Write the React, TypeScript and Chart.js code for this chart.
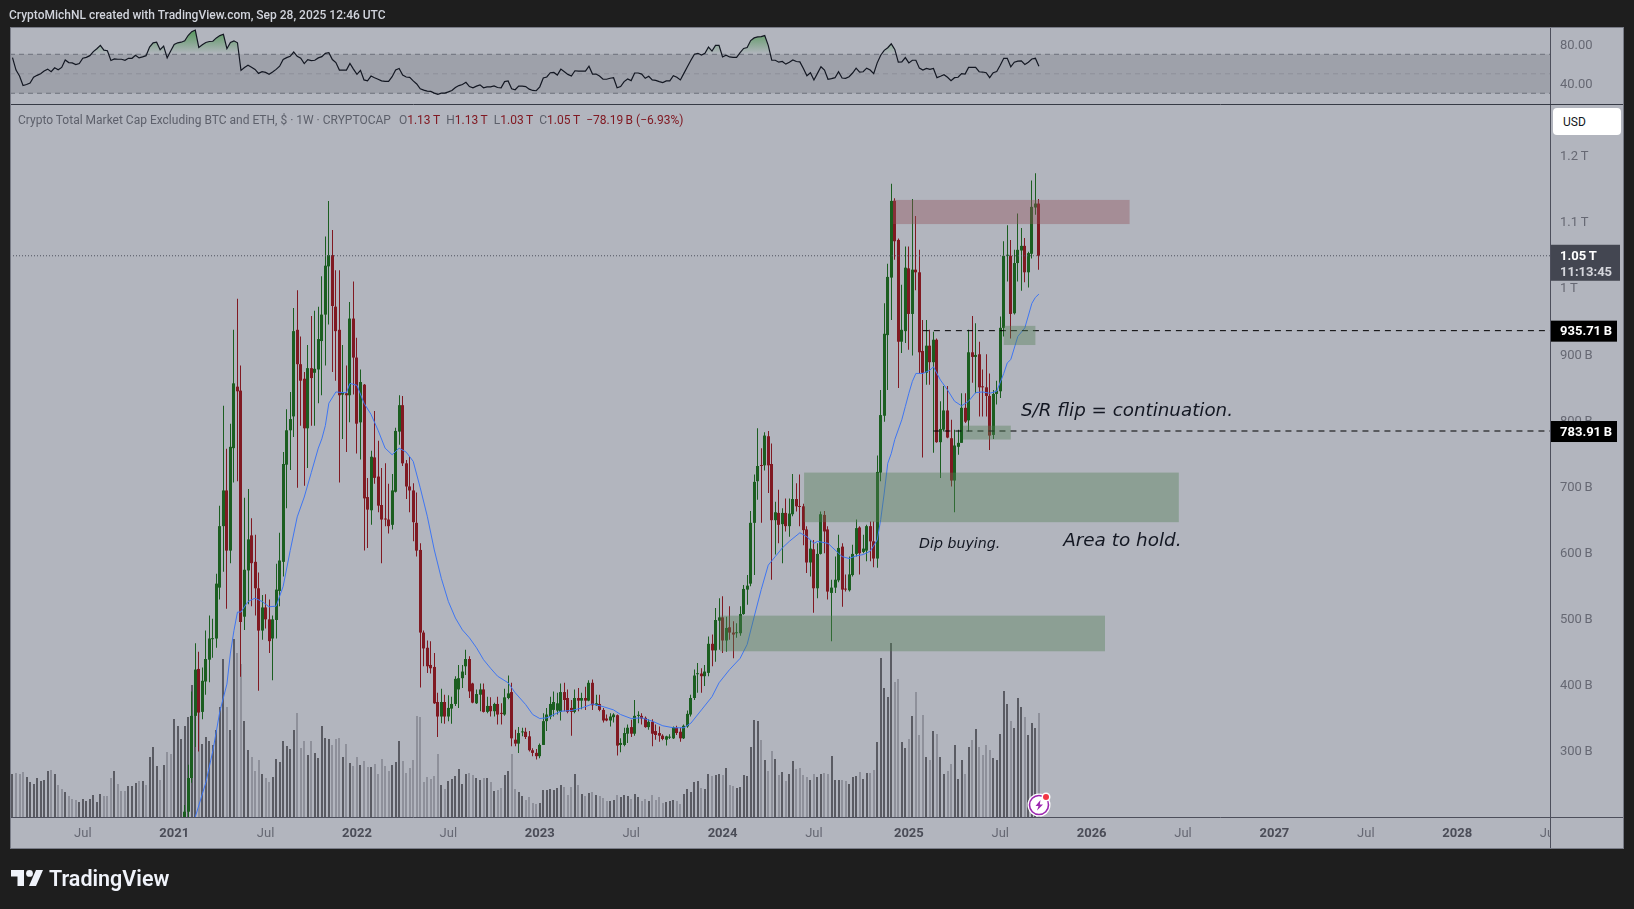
import { useEffect, useRef } from 'react';
import { Chart, registerables } from 'chart.js';

Chart.register(...registerables);

// 293 weekly bars; the first 49 (2020) sit below the price axis, only their volume shows.
const FIRST_CANDLE_WEEK = 49;
const LAST_CANDLE_MONDAY = Date.UTC(2025, 8, 22);
const LAST_WEEK = 292;

const opens = [
  200,208,259,353,424,359,405,438,469,470,547,640,694,603,758,851,845,503,573,626,
  586,546,482,517,499,470,498,542,586,733,785,806,937,885,863,788,879,872,877,920,
  960,1033,1050,972,937,839,841,838,954,895,797,854,684,664,744,715,672,651,650,642,
  692,783,823,735,700,694,645,604,479,456,430,427,374,352,374,352,364,371,393,410,
  428,439,402,372,385,393,359,368,360,371,357,355,380,389,317,311,328,329,322,301,
  297,292,309,345,352,362,361,359,389,380,365,359,380,376,380,376,403,369,371,362,
  349,346,351,354,309,309,326,336,326,353,353,350,336,344,330,327,323,317,320,319,
  335,329,319,337,355,380,416,417,413,418,462,452,497,502,467,487,479,478,478,507,
  544,553,645,708,732,732,776,734,649,660,643,660,640,658,681,670,670,635,585,605,
  546,598,657,635,539,547,558,609,545,543,566,598,638,601,603,640,617,591,721,807,
  929,1016,1132,1073,919,935,1030,961,1028,1024,905,872,913,888,922,767,786,815,773,709,
  760,766,819,800,903,896,900,851,850,837,778,840,844,940,1049,1049,962,1038,1057,1064,
  1024,1052,1122,1128,
];
const closes = [
  208,259,353,423,358,406,439,470,470,553,640,694,603,760,856,844,495,574,620,584,
  546,482,517,499,466,499,544,588,734,785,802,935,885,860,788,879,864,878,923,960,
  1034,1050,973,935,838,842,838,954,895,795,858,682,665,745,713,671,650,650,640,694,
  784,823,735,700,694,646,603,479,455,428,425,372,352,374,352,365,371,409,410,420,
  439,390,373,386,393,359,368,360,371,355,356,381,387,319,311,327,329,321,301,297,
  292,309,345,355,371,374,372,389,377,359,359,380,376,380,376,403,369,372,362,346,
  346,352,355,308,312,327,335,326,353,354,349,336,344,326,324,323,318,322,321,336,
  327,319,338,356,380,414,417,413,420,462,452,498,502,467,486,479,476,479,507,545,
  550,645,707,731,731,777,732,649,661,642,660,640,659,681,670,669,634,585,606,546,
  598,658,632,541,547,559,607,544,544,567,598,637,599,606,640,617,591,722,808,931,
  1017,1132,1071,919,937,1031,961,1028,1024,903,872,913,888,922,767,787,815,774,709,762,
  766,819,798,903,896,899,850,850,837,777,840,845,940,1049,1050,961,1038,1058,1064,1024,
  1053,1123,1128,1049,
];
const highs = [
  218,279,390,463,450,426,482,505,500,568,671,822,757,795,937,984,883,683,696,652,
  627,570,536,537,529,505,583,630,752,817,843,970,997,927,873,914,958,966,972,1018,
  1078,1132,1088,1027,1027,914,883,979,1010,925,877,855,713,754,814,769,728,735,704,719,
  789,838,837,740,745,705,691,614,482,467,466,448,388,394,385,384,382,413,430,430,
  453,443,403,393,402,402,382,381,373,382,372,394,414,403,332,336,335,335,330,304,
  303,311,357,365,382,390,388,402,403,393,377,393,395,388,397,407,408,385,385,365,
  355,357,357,355,319,335,340,347,377,360,357,352,348,348,340,337,325,323,325,337,
  338,335,340,361,385,423,433,425,430,473,476,516,531,534,503,519,496,493,519,551,
  566,663,718,788,758,782,784,765,677,695,667,682,682,719,705,718,674,640,619,619,
  614,662,663,640,559,594,627,614,567,594,612,650,640,627,642,647,647,747,846,977,
  1037,1158,1136,1075,1005,1063,1063,1135,1109,1058,952,952,937,934,924,829,852,852,801,786,
  786,841,841,937,958,947,919,877,900,871,846,860,957,1071,1095,1073,1058,1113,1091,1076,
  1055,1163,1174,1135,
];
const lows = [
  190,200,252,306,299,348,385,404,441,456,529,571,515,584,706,708,412,483,522,519,
  505,391,468,485,448,407,470,519,564,667,725,775,698,792,701,728,792,792,826,838,
  883,945,873,860,706,772,752,797,839,750,741,603,607,642,704,661,584,640,629,635,
  691,763,731,681,661,617,594,396,428,418,417,371,321,342,341,345,341,368,365,395,
  415,380,372,371,360,358,357,352,352,340,340,353,378,307,307,297,322,318,299,292,
  287,289,309,330,348,352,355,346,360,357,323,357,360,363,362,375,362,368,360,343,
  345,337,343,293,298,307,312,321,323,342,340,335,332,307,317,314,316,308,318,318,
  324,314,318,335,352,377,388,388,398,413,428,435,453,448,450,468,440,471,474,506,
  521,549,566,680,645,724,690,559,597,614,584,632,624,655,662,640,611,569,564,509,
  531,597,599,529,466,539,555,518,541,541,564,594,567,599,587,587,578,577,708,798,
  846,952,1043,849,902,917,907,898,997,871,744,854,854,751,766,713,783,773,700,661,
  748,766,796,783,857,841,806,806,806,755,772,824,834,927,1010,924,960,1010,996,1009,
  1001,1045,1111,1028,
];

// volume in arbitrary units, one per week from the left edge
const earlyVolumes = [
  43,44,43,45,40,35,33,39,36,37,46,47,43,32,28,25,21,18,17,15,18,16,18,22,15,
  23,21,21,39,46,33,26,26,31,31,34,36,36,32,60,70,51,37,52,65,63,98,91,78,
];
const earlyVolumeDown = [
  0,1,1,1,0,0,0,0,0,0,0,1,0,1,1,0,1,1,1,0,0,0,0,0,0,
  0,1,1,1,0,1,1,1,0,0,0,1,0,1,0,0,0,1,0,1,1,0,0,0,
];
const candleVolumes = [
  91,100,132,113,130,73,80,76,72,87,110,158,110,87,178,164,153,96,67,60,
  46,57,43,39,35,40,58,55,76,71,68,87,104,69,76,62,76,64,59,91,
  79,78,72,78,79,60,73,54,51,60,52,56,50,50,53,43,58,51,46,52,
  55,76,56,44,49,57,101,100,35,40,38,41,63,32,28,36,38,41,48,33,
  43,44,42,39,37,39,39,35,26,27,29,42,46,63,28,25,21,17,20,14,
  13,14,27,27,28,27,29,32,30,22,30,43,32,23,21,24,25,22,21,19,
  16,16,17,22,20,22,21,18,23,20,16,18,16,22,17,20,14,15,16,17,
  16,13,23,28,25,35,36,29,28,43,41,42,43,42,49,32,31,29,30,42,
  41,70,97,96,77,57,46,66,58,42,45,36,43,56,48,49,42,40,37,43,
  40,43,44,43,61,37,37,37,36,33,40,41,45,38,44,44,47,75,159,129,
  120,174,135,138,75,69,78,101,125,82,102,60,57,86,83,60,43,46,53,72,
  38,57,43,70,77,88,70,62,72,67,59,57,83,126,113,96,89,119,110,100,
  82,94,89,104,
];

const rsi = [
  66.6,53.8,47.7,37.9,39,40.6,46.4,48.4,50.1,52.8,54.8,52.1,56.1,54.1,56.5,64.2,61.5,61.2,59.5,60.5,
  65.9,66.9,68.6,72.7,75.7,79.1,74.3,73.7,63.6,65.2,64.9,64.9,63.9,65.9,65.9,69,66.3,67.3,68.6,77.4,
  81.8,82.4,74.7,78.4,66.3,73.3,80.1,81.8,82.4,83.8,89.5,93.2,94.9,77,79.7,82.1,83.1,83.4,86.8,89.2,
  90.5,75.7,82.1,83.8,81.8,53.5,56.5,58.8,56.8,54.5,50.4,52.1,51.4,49.4,51.8,54.5,57.8,64.6,66.6,67.9,
  72.3,67.9,65.9,60.5,64.6,63.6,63.9,66.3,67.6,71,71.7,64.6,61.5,53.8,53.8,53.8,60.5,54.8,49.4,53.5,
  43.7,42.7,47.7,46,44.4,42.7,42.3,42.3,47,53.8,55.5,48.7,46.7,46.4,42.7,39.6,34.6,33.2,32.2,31.9,
  30.2,28.9,30.2,30.2,31.5,32.9,35.9,37.9,39,41.3,36.9,35.6,37.3,38.6,35.6,36.6,36.6,37.6,35.9,35.6,
  42,42.7,34.6,33.6,37.3,37.3,36.9,34.2,32.9,32.6,36.6,45.7,46.7,51.1,51.4,48.7,54.8,52.1,49.4,47.7,
  53.1,52.8,52.8,52.8,57.8,49.7,49.7,47.7,44.4,44.4,45.4,46,35.6,36.9,42,44.7,43,50.8,50.8,49.7,
  45.4,47.4,43.7,43.3,42,41,42.7,42.7,48,46.4,43.7,50.4,57.2,63.9,70,71,
  69.3,71,77.4,73.3,79.1,79.1,67.3,69,67.3,66.9,66.9,71.7,76,77,84.1,86.8,87.8,88.2,89.2,79.1,
  63.9,63.9,61.9,62.6,59.9,61.9,64.2,62.6,62.2,55.5,48,51.1,43.7,50.4,57.2,53.8,44.4,45,46,52.1,
  45.7,45.4,47,50.8,55.8,51.8,52.1,55.8,53.8,50.1,61.2,69,74,76.7,80.7,75,61.9,62.2,66.6,61.2,
  63.9,63.9,55.8,53.8,55.5,54.5,55.5,46,47.4,49.1,46.4,43,46,46.4,50.1,49.7,56.5,56.5,56.5,52.1,
  51.8,51.1,46,51.1,52.4,58.8,65.9,65.9,57.2,61.9,62.9,63.2,59.5,61.9,65.2,65.9,57.8,
];

// moving average, read every couple of candles (candle number, value)
const maCandles = [
  4,7,9,11,13,14,15,16,17,19,21,23,25,27,29,31,33,35,37,39,40,41,42,44,46,47,48,50,52,54,56,58,60,62,64,66,
  68,70,72,74,76,78,80,82,84,86,88,90,93,95,98,100,102,104,106,108,111,114,117,120,123,125,128,131,134,137,140,143,145,
  148,151,153,156,159,161,163,165,167,169,171,173,176,178,180,181,184,186,188,190,192,194,196,198,199,200,201,202,203,205,
  206,207,208,209,211,213,214,216,218,220,222,224,226,228,230,232,234,235,236,238,240,242,243,244,
];
const maValues = [
  200,252,300,360,401,448,482,510,510,526,531,526,518,519,549,603,654,684,721,758,772,792,826,843,842,842,856,853,826,809,785,758,748,758,752,738,
  698,655,604,561,526,501,483,471,456,438,425,413,403,388,370,355,349,350,355,360,361,365,371,367,362,355,349,350,345,338,335,335,342,
  362,382,403,423,440,461,503,544,581,594,607,617,630,624,614,617,614,604,594,591,595,597,602,619,650,690,735,750,771,801,
  821,841,859,871,871,876,881,861,846,829,822,829,842,843,841,844,871,887,892,927,940,977,986,991,
];

const priceTicks = [300, 400, 500, 600, 700, 800, 900, 1000, 1100, 1200];
const rsiTicks = [80, 40];
const rsiLevels = [70, 50, 30];
const xTickDates = [
  '2020-07-06','2021-01-04','2021-07-05','2022-01-03','2022-07-04','2023-01-02','2023-07-03','2024-01-01',
  '2024-07-01','2025-01-06','2025-07-07','2026-01-05','2026-07-06','2027-01-04','2027-07-05','2028-01-03','2028-07-03',
];
const xTickLabels = ['Jul','2021','Jul','2022','Jul','2023','Jul','2024','Jul','2025','Jul','2026','Jul','2027','Jul','2028','Jul'];

const lastPrice = 1049;
const supportLevels = [935.71, 783.91];
const supportFromWeeks = [259, 262];

const zoneFrom = [250.5, 225.2, 201.3, 282, 270.4];
const zoneTo = [317.8, 331.8, 310.8, 291, 284];
const zoneHigh = [1133.5, 721, 504.6, 943, 792];
const zoneLow = [1097, 646, 450.7, 914, 771];
const zoneColors = ['rgba(145,83,90,.4)', 'rgba(83,128,85,.4)', 'rgba(83,128,85,.4)', 'rgba(83,128,85,.4)', 'rgba(83,128,85,.4)'];

const noteTexts = ['S/R flip = continuation.', 'Area to hold.', 'Dip buying.'];
const noteWeeks = [286.9, 298.9, 257.9];
const notePrices = [814.5, 616.5, 613];
const noteSizes = [18.3, 18.4, 14.2];

const UP = '#1b5e20';
const DOWN = '#801922';
const PANEL = '#b2b5be';
const UI_FONT = 'Roboto, sans-serif';

const X_MIN = -0.71;
const X_MAX = 437.4;

const weekOf = (iso: string) => LAST_WEEK + (Date.parse(iso) - LAST_CANDLE_MONDAY) / (7 * 864e5);
const formatPrice = (v: number) => (v >= 1000 ? `${+(v / 1000).toFixed(1)}\u2009T` : `${v}\u2009B`);

const drawTag = (ctx: CanvasRenderingContext2D, y: number, text: string) => {
  ctx.fillStyle = '#000';
  ctx.fillRect(1551, y - 10, 66, 21);
  ctx.fillStyle = '#fff';
  ctx.font = `bold 13px ${UI_FONT}`;
  ctx.textAlign = 'left';
  ctx.textBaseline = 'middle';
  ctx.fillText(text, 1560, y + 1.5);
};

// panels, separators, zones, notes and axis tags that Chart.js has no element for
const chromePlugin = {
  id: 'chrome',
  beforeDraw(chart: Chart) {
    const { ctx } = chart;
    ctx.save();
    ctx.fillStyle = PANEL;
    ctx.fillRect(10, 27, 1614, 822);
    ctx.restore();
  },
  beforeDatasetsDraw(chart: Chart) {
    const { ctx, chartArea, scales } = chart;
    const top = scales.yRsi.getPixelForValue(70);
    const bottom = scales.yRsi.getPixelForValue(30);
    ctx.save();
    ctx.fillStyle = '#9ea1aa';
    ctx.fillRect(chartArea.left, top, chartArea.width, bottom - top);
    ctx.restore();
  },
  afterDatasetUpdate(chart: Chart, args: any) {
    // keep thin bars on whole pixels so wicks stay sharp
    const width = chart.data.datasets[args.index].barThickness as number | undefined;
    if (!width) return;
    args.meta.data.forEach((el: any) => {
      el.x = width % 2 ? Math.floor(el.x) + 0.5 : Math.round(el.x);
    });
  },
  afterDatasetsDraw(chart: Chart) {
    const { ctx, scales } = chart;
    const { x, y } = scales;
    ctx.save();
    zoneFrom.forEach((from, i) => {
      const left = x.getPixelForValue(from);
      const top = y.getPixelForValue(zoneHigh[i]);
      ctx.fillStyle = zoneColors[i];
      ctx.fillRect(left, top, x.getPixelForValue(zoneTo[i]) - left, y.getPixelForValue(zoneLow[i]) - top);
    });
    ctx.fillStyle = '#131722';
    ctx.textAlign = 'left';
    ctx.textBaseline = 'middle';
    noteTexts.forEach((text, i) => {
      ctx.font = `oblique ${noteSizes[i]}px "DejaVu Sans", sans-serif`;
      ctx.fillText(text, x.getPixelForValue(noteWeeks[i]), y.getPixelForValue(notePrices[i]));
    });
    ctx.restore();
  },
  afterDraw(chart: Chart) {
    const { ctx, chartArea, scales } = chart;
    const { y } = scales;
    ctx.save();
    // the last time label is cut off at the price axis
    ctx.fillStyle = PANEL;
    ctx.fillRect(chartArea.right, chartArea.bottom + 1, 74, 31);
    ctx.strokeStyle = '#4d4f5c';
    ctx.lineWidth = 1;
    ctx.beginPath();
    ctx.moveTo(chartArea.right + 0.5, 27);
    ctx.lineTo(chartArea.right + 0.5, 849);
    ctx.moveTo(10, chartArea.bottom + 0.5);
    ctx.lineTo(1624, chartArea.bottom + 0.5);
    ctx.stroke();
    ctx.strokeStyle = '#363a45';
    ctx.beginPath();
    ctx.moveTo(10, scales.yRsi.bottom + 0.5);
    ctx.lineTo(1624, scales.yRsi.bottom + 0.5);
    ctx.stroke();
    ctx.strokeStyle = '#787b86';
    ctx.strokeRect(10.5, 27.5, 1613, 821);
    supportLevels.forEach((level) => drawTag(ctx, y.getPixelForValue(level), formatPrice(+level.toFixed(2))));
    const py = y.getPixelForValue(lastPrice);
    ctx.fillStyle = '#434651';
    ctx.fillRect(1551, py - 11, 69, 36);
    ctx.fillStyle = '#fff';
    ctx.font = `bold 13px ${UI_FONT}`;
    ctx.textAlign = 'left';
    ctx.textBaseline = 'middle';
    ctx.fillText(`1.05\u2009T`, 1560, py + 1);
    ctx.fillStyle = '#d5d6dc';
    ctx.fillText('11:13:45', 1560, py + 17);
    ctx.restore();
  },
};

export default function App() {
  const canvasRef = useRef<HTMLCanvasElement>(null);

  useEffect(() => {
    const canvas = canvasRef.current;
    if (!canvas) return;
    const ctx = canvas.getContext('2d');
    if (!ctx) return;

    const overbought = ctx.createLinearGradient(0, 27, 0, 54);
    overbought.addColorStop(0, 'rgba(56,142,60,.85)');
    overbought.addColorStop(1, 'rgba(56,142,60,0)');

    const candleColors = opens.map((o, i) => (closes[i] >= o ? UP : DOWN));
    const volumeColor = (down: boolean) => (down ? '#8e909a' : '#5a5b63');
    const volumes = [...earlyVolumes, ...candleVolumes];
    const volumeColors = [
      ...earlyVolumeDown.map((d) => volumeColor(!!d)),
      ...opens.map((o, i) => volumeColor(closes[i] < o)),
    ];

    const chart = new Chart(canvas, {
      type: 'bar',
      plugins: [chromePlugin as any],
      data: {
        datasets: [
          {
            type: 'bar',
            data: volumes.map((v, i) => ({ x: i, y: v })),
            yAxisID: 'yVol',
            backgroundColor: volumeColors,
            barThickness: 2,
            grouped: false,
            inflateAmount: 0,
            order: 5,
          },
          {
            type: 'bar',
            data: lows.map((l, i) => ({ x: i + FIRST_CANDLE_WEEK, y: [l, highs[i]] })),
            yAxisID: 'y',
            backgroundColor: candleColors,
            barThickness: 1,
            grouped: false,
            inflateAmount: 0,
            order: 4,
          },
          {
            type: 'bar',
            data: opens.map((o, i) => ({ x: i + FIRST_CANDLE_WEEK, y: [o, closes[i]] })),
            yAxisID: 'y',
            backgroundColor: candleColors,
            barThickness: 3,
            minBarLength: 1,
            grouped: false,
            inflateAmount: 0,
            order: 3,
          },
          {
            type: 'line',
            data: maValues.map((v, i) => ({ x: maCandles[i] + FIRST_CANDLE_WEEK - 1, y: v })),
            yAxisID: 'y',
            borderColor: '#3f76f2',
            borderWidth: 1,
            pointRadius: 0,
            order: 2,
          },
          {
            type: 'line',
            data: [{ x: X_MIN, y: lastPrice }, { x: X_MAX, y: lastPrice }],
            yAxisID: 'y',
            borderColor: '#50535e',
            borderWidth: 1,
            borderDash: [1, 2],
            pointRadius: 0,
            order: 2,
          },
          ...supportLevels.map((level, i) => ({
            type: 'line' as const,
            data: [{ x: supportFromWeeks[i], y: level }, { x: X_MAX, y: level }],
            yAxisID: 'y',
            borderColor: '#000',
            borderWidth: 1,
            borderDash: [6, 5],
            pointRadius: 0,
            order: 1,
          })),
          ...rsiLevels.map((level) => ({
            type: 'line' as const,
            data: [{ x: X_MIN, y: level }, { x: X_MAX, y: level }],
            yAxisID: 'yRsi',
            borderColor: level === 50 ? '#8d909a' : '#6d707b',
            borderWidth: 1,
            borderDash: [5, 4],
            pointRadius: 0,
            order: 2,
          })),
          {
            type: 'line',
            data: rsi.map((v, i) => ({ x: i, y: v })),
            yAxisID: 'yRsi',
            borderColor: '#131722',
            borderWidth: 1.2,
            pointRadius: 0,
            fill: { value: 70, above: overbought, below: 'transparent' },
            order: 1,
          },
        ] as any,
      },
      options: {
        responsive: false,
        animation: false,
        events: [],
        layout: { padding: { left: 10, top: 27, right: 10, bottom: 60 } },
        plugins: { legend: { display: false }, tooltip: { enabled: false } },
        scales: {
          x: {
            type: 'linear',
            offset: false,
            min: X_MIN,
            max: X_MAX,
            grid: { display: false },
            border: { display: false },
            afterBuildTicks: (scale) => {
              scale.ticks = xTickDates.map((d, i) => ({ value: weekOf(d), major: xTickLabels[i] !== 'Jul' }));
            },
            afterFit: (scale) => {
              scale.height = 32;
              scale.paddingLeft = 0;
              scale.paddingRight = 0;
            },
            ticks: {
              autoSkip: false,
              maxRotation: 0,
              padding: 1,
              major: { enabled: true },
              color: (c) => (c.tick?.major ? '#4a4c57' : '#666873'),
              font: (c) => ({ family: UI_FONT, size: 13, weight: c.tick?.major ? 'bold' : 'normal' }),
              callback: (_v, i) => xTickLabels[i],
            },
          },
          yRsi: {
            type: 'linear',
            position: 'right',
            stack: 'right',
            stackWeight: 77,
            weight: 0,
            min: 19,
            max: 98,
            grid: { display: false },
            border: { display: false },
            afterBuildTicks: (scale) => {
              scale.ticks = rsiTicks.map((value) => ({ value }));
            },
            afterFit: (scale) => {
              scale.width = 74;
            },
            ticks: {
              padding: 2,
              labelOffset: 1,
              crossAlign: 'near',
              color: '#666873',
              font: { family: UI_FONT, size: 13 },
              callback: (v) => Number(v).toFixed(2),
            },
          },
          y: {
            type: 'linear',
            position: 'right',
            stack: 'right',
            stackWeight: 713,
            weight: 1,
            min: 200,
            max: 1278.6,
            grid: { display: false },
            border: { display: false },
            afterBuildTicks: (scale) => {
              scale.ticks = priceTicks.map((value) => ({ value }));
            },
            afterFit: (scale) => {
              scale.width = 74;
            },
            ticks: {
              padding: 2,
              labelOffset: 1,
              crossAlign: 'near',
              color: '#666873',
              font: { family: UI_FONT, size: 13 },
              callback: (v) => formatPrice(Number(v)),
            },
          },
          yVol: {
            type: 'linear',
            display: false,
            min: 0,
            max: 790,
          },
        },
      },
    });

    return () => chart.destroy();
  }, []);

  return (
    <div style={{ position: 'fixed', inset: 0, background: '#1e1e1e', overflow: 'hidden', fontFamily: UI_FONT }}>
      <canvas ref={canvasRef} width={1634} height={909} style={{ position: 'absolute', left: 0, top: 0, display: 'block' }} />
      <div style={{ position: 'absolute', left: 9, top: 8, fontSize: 12, fontWeight: 500, color: '#d1d4dc', whiteSpace: 'nowrap' }}>
        CryptoMichNL created with TradingView.com, Sep 28, 2025 12:46 UTC
      </div>
      <div style={{ position: 'absolute', left: 18, top: 113, fontSize: 12, color: '#5d606b', whiteSpace: 'nowrap' }}>
        Crypto Total Market Cap Excluding BTC and ETH, $ · 1W · CRYPTOCAP
        <span style={{ marginLeft: 8 }}>O<span style={{ color: DOWN }}>1.13{'\u2009'}T</span></span>
        <span style={{ marginLeft: 6 }}>H<span style={{ color: DOWN }}>1.13{'\u2009'}T</span></span>
        <span style={{ marginLeft: 6 }}>L<span style={{ color: DOWN }}>1.03{'\u2009'}T</span></span>
        <span style={{ marginLeft: 6 }}>C<span style={{ color: DOWN }}>1.05{'\u2009'}T</span></span>
        <span style={{ marginLeft: 6, color: DOWN }}>−78.19{'\u2009'}B (−6.93%)</span>
      </div>
      <div style={{ position: 'absolute', left: 1553, top: 108, width: 68, height: 27, boxSizing: 'border-box', paddingLeft: 10, background: '#fff', borderRadius: 4, fontSize: 12, lineHeight: '29px', color: '#131722' }}>
        USD
      </div>
      <svg style={{ position: 'absolute', left: 1027, top: 791 }} width={26} height={26} viewBox="0 0 26 26">
        <circle cx={12} cy={14} r={11.5} fill="#fff" />
        <circle cx={12} cy={14} r={9.5} fill="#fff" stroke="#9c27b0" strokeWidth={1.6} />
        <path d="M13.5 9 L8.5 15 H11.5 L10 19.5 L16 13.5 H12.8 Z" fill="#9c27b0" />
        <circle cx={19} cy={6} r={4.5} fill="#fff" />
        <circle cx={19} cy={6} r={3} fill="#f23645" />
      </svg>
      <svg style={{ position: 'absolute', left: 11, top: 870 }} width={32} height={16} viewBox="0 0 32 16">
        <path d="M0 0 H13 V16 H6.5 V6.5 H0 Z M25 0 H32 L25 16 H18 Z" fill="#f0f3fa" />
        <circle cx={18.5} cy={3.4} r={3.4} fill="#f0f3fa" />
      </svg>
      <div style={{ position: 'absolute', left: 49, top: 866, fontSize: 21.5, fontWeight: 600, color: '#f0f3fa', whiteSpace: 'nowrap' }}>
        TradingView
      </div>
    </div>
  );
}
